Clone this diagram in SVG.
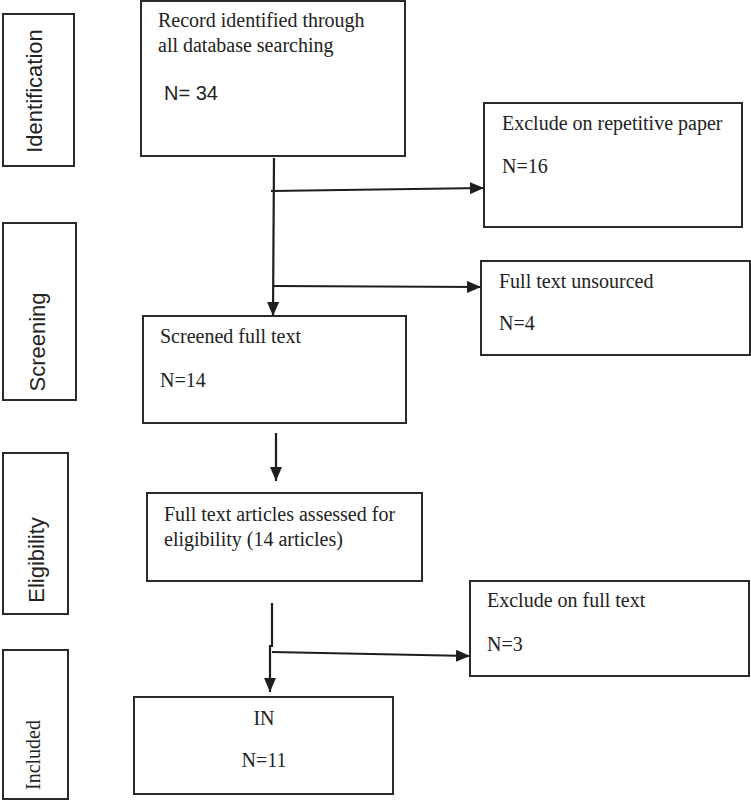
<svg xmlns="http://www.w3.org/2000/svg" width="751" height="800" viewBox="0 0 751 800">
<style>
.box{fill:#fff;stroke:#2a2a2a;stroke-width:2}
.serif{font-family:"Liberation Serif","Times New Roman",serif;font-size:20px;fill:#222}
.sans{font-family:"Liberation Sans",Arial,sans-serif;font-size:22px;fill:#222}
.conn{stroke:#1e1e1e;stroke-width:2.2;fill:none}
</style>
<defs>
<marker id="ah" viewBox="0 0 14 12" refX="14" refY="6" markerWidth="14" markerHeight="12" orient="auto" markerUnits="userSpaceOnUse">
<path d="M0,0 L14,6 L0,12 z" fill="#1e1e1e"/>
</marker>
</defs>
<rect width="751" height="800" fill="#fff"/>
<g id="label-identification">
<rect class="box" x="3" y="14" width="71" height="152"/>
<text class="sans" transform="translate(42,91) rotate(-90)" text-anchor="middle">Identification</text>
</g>
<g id="label-screening">
<rect class="box" x="3" y="223" width="73" height="177"/>
<text class="sans" transform="translate(45,342) rotate(-90)" text-anchor="middle">Screening</text>
</g>
<g id="label-eligibility">
<rect class="box" x="3" y="453" width="65" height="161"/>
<text class="sans" transform="translate(44,560) rotate(-90)" text-anchor="middle">Eligibility</text>
</g>
<g id="label-included">
<rect class="box" x="3" y="650" width="65" height="149"/>
<text class="serif" transform="translate(40,755) rotate(-90)" text-anchor="middle">Included</text>
</g>
<g id="records">
<rect class="box" x="141" y="1" width="264" height="155"/>
<text class="serif" x="158" y="27">Record identified through</text>
<text class="serif" x="158" y="52">all database searching</text>
<text class="sans" x="164" y="100" style="font-size:20px">N= 34</text>
</g>
<g id="exclude-repetitive">
<rect class="box" x="484" y="103" width="258" height="124"/>
<text class="serif" x="502" y="130">Exclude on repetitive paper</text>
<text class="serif" x="502" y="173">N=16</text>
</g>
<g id="unsourced">
<rect class="box" x="481" y="261" width="269" height="94"/>
<text class="serif" x="499" y="288">Full text unsourced</text>
<text class="serif" x="499" y="330">N=4</text>
</g>
<g id="screened">
<rect class="box" x="143" y="316" width="263" height="107"/>
<text class="serif" x="160" y="343">Screened full text</text>
<text class="serif" x="160" y="387">N=14</text>
</g>
<g id="assessed">
<rect class="box" x="147" y="493" width="275" height="88"/>
<text class="serif" x="164" y="521">Full text articles assessed for</text>
<text class="serif" x="164" y="546">eligibility (14 articles)</text>
</g>
<g id="exclude-fulltext">
<rect class="box" x="470" y="581" width="279" height="95"/>
<text class="serif" x="487" y="607">Exclude on full text</text>
<text class="serif" x="487" y="651">N=3</text>
</g>
<g id="included">
<rect class="box" x="134" y="697" width="259" height="97"/>
<text class="serif" x="264" y="725" text-anchor="middle">IN</text>
<text class="serif" x="264" y="767" text-anchor="middle">N=11</text>
</g>
<g id="connectors">
<line class="conn" x1="274" y1="158" x2="273" y2="316" marker-end="url(#ah)"/>
<line class="conn" x1="271" y1="191" x2="484" y2="188" marker-end="url(#ah)"/>
<line class="conn" x1="273" y1="286" x2="481" y2="287" marker-end="url(#ah)"/>
<line class="conn" x1="276" y1="433" x2="276" y2="481" marker-end="url(#ah)"/>
<line class="conn" x1="272" y1="603" x2="272" y2="647"/>
<line class="conn" x1="270" y1="645" x2="270" y2="692" marker-end="url(#ah)"/>
<line class="conn" x1="272" y1="652" x2="470" y2="656" marker-end="url(#ah)"/>
</g>
</svg>
